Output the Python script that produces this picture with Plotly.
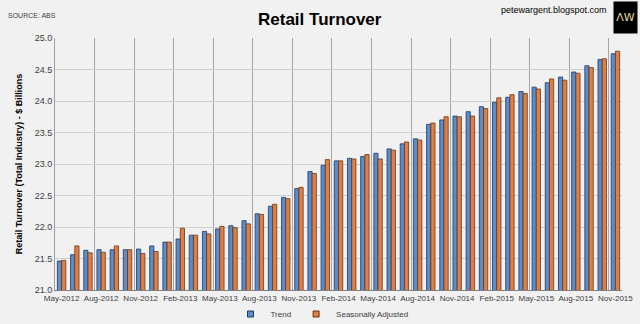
import plotly.graph_objects as go

months = ["May-2012","Jun-2012","Jul-2012","Aug-2012","Sep-2012","Oct-2012","Nov-2012","Dec-2012",
          "Jan-2013","Feb-2013","Mar-2013","Apr-2013","May-2013","Jun-2013","Jul-2013","Aug-2013",
          "Sep-2013","Oct-2013","Nov-2013","Dec-2013","Jan-2014","Feb-2014","Mar-2014","Apr-2014",
          "May-2014","Jun-2014","Jul-2014","Aug-2014","Sep-2014","Oct-2014","Nov-2014","Dec-2014",
          "Jan-2015","Feb-2015","Mar-2015","Apr-2015","May-2015","Jun-2015","Jul-2015","Aug-2015",
          "Sep-2015","Oct-2015","Nov-2015"]

trend = [21.46, 21.56, 21.63, 21.64, 21.64, 21.64, 21.65, 21.70, 21.76, 21.81, 21.87, 21.93,
         21.97, 22.02, 22.10, 22.21, 22.33, 22.47, 22.61, 22.88, 22.98, 23.05, 23.09, 23.12,
         23.17, 23.24, 23.32, 23.40, 23.63, 23.70, 23.76, 23.83, 23.91, 23.98, 24.06, 24.15,
         24.22, 24.29, 24.38, 24.46, 24.56, 24.66, 24.75]

seas_adj = [21.47, 21.70, 21.59, 21.60, 21.70, 21.64, 21.58, 21.61, 21.76, 21.98, 21.87, 21.89,
            22.01, 21.99, 22.05, 22.20, 22.36, 22.45, 22.63, 22.85, 23.07, 23.05, 23.08, 23.15,
            23.08, 23.22, 23.35, 23.38, 23.65, 23.75, 23.75, 23.76, 23.88, 24.05, 24.10, 24.12,
            24.19, 24.35, 24.33, 24.44, 24.53, 24.67, 24.79]

y_ticks = [21.0, 21.5, 22.0, 22.5, 23.0, 23.5, 24.0, 24.5, 25.0]

FONT = "Liberation Sans Narrow, Arial Narrow, Liberation Sans, sans-serif"
BG = "#f1f1f1"
W, H = 640, 324
ML, MR, MT, MB = 55, 18, 38, 34

BLUE, BLUE_EDGE = "#5b8ccb", "#1f3a5f"
ORANGE, ORANGE_EDGE = "#dc8048", "#6e3610"


def px(x):
    return (x - ML) / (W - ML - MR)


def py(y):
    return (H - MB - y) / (H - MT - MB)


idx = list(range(len(months)))
label_idx = idx[::3]

fig = go.Figure()
fig.add_trace(go.Bar(x=idx, y=trend, name="Trend", showlegend=False, legendgroup="t",
                     marker=dict(color=BLUE, line=dict(color=BLUE_EDGE, width=0.8))))
fig.add_trace(go.Bar(x=idx, y=seas_adj, name="Seasonally Adjusted", showlegend=False,
                     legendgroup="s",
                     marker=dict(color=ORANGE, line=dict(color=ORANGE_EDGE, width=0.8))))
# legend-only entries with small square swatches
fig.add_trace(go.Scatter(x=[None], y=[None], mode="markers", name="Trend", legendgroup="t",
                         marker=dict(symbol="square", size=6, color=BLUE,
                                     line=dict(color=BLUE_EDGE, width=1))))
fig.add_trace(go.Scatter(x=[None], y=[None], mode="markers", name="Seasonally Adjusted",
                         legendgroup="s",
                         marker=dict(symbol="square", size=6, color=ORANGE,
                                     line=dict(color=ORANGE_EDGE, width=1))))

fig.update_layout(
    width=W, height=H,
    paper_bgcolor=BG, plot_bgcolor=BG,
    margin=dict(l=ML, r=MR, t=MT, b=MB, autoexpand=False),
    barmode="group", bargap=0.36, bargroupgap=0.0,
    font=dict(family=FONT, size=9, color="#404040"),
    showlegend=True,
    legend=dict(orientation="h", x=px(322), xanchor="center",
                yref="container", y=1 - 314 / H, yanchor="middle",
                font=dict(size=8, color="#404040"), bgcolor="rgba(0,0,0,0)",
                itemwidth=30, traceorder="normal", tracegroupgap=0),
    xaxis=dict(
        range=[-0.5, len(months) - 0.5],
        tickmode="array", tickvals=label_idx, ticktext=[months[i] for i in label_idx],
        tickangle=0,
        showgrid=False, ticks="", showline=True, linecolor="#808080", linewidth=1,
        tickfont=dict(size=8, color="#404040"),
        minor=dict(tickmode="array", tickvals=[i - 0.5 for i in label_idx[1:]],
                   showgrid=True, gridcolor="#a6a6a6", gridwidth=1, ticks=""),
        zeroline=False,
    ),
    yaxis=dict(
        range=[21.0, 25.0], tickmode="array", tickvals=y_ticks,
        tickformat=".1f", showgrid=True, gridcolor="#cfcfcf", gridwidth=1,
        showline=True, linecolor="#a0a0a0", linewidth=1, ticks="",
        tickfont=dict(size=9, color="#404040"), zeroline=False,
        title=dict(text="<b>Retail Turnover (Total Industry) - $ Billions</b>",
                   font=dict(size=9, color="#000000"), standoff=10),
    ),
    annotations=[
        dict(text="<b>Retail Turnover</b>", x=px(320), y=py(19), xref="paper", yref="paper",
             xanchor="center", yanchor="middle", showarrow=False,
             font=dict(size=17, color="#000000", family=FONT)),
        dict(text="SOURCE: ABS", x=px(6), y=py(15), xref="paper", yref="paper",
             xanchor="left", yanchor="middle", showarrow=False,
             font=dict(size=7, color="#404040", family=FONT)),
        dict(text="petewargent.blogspot.com", x=px(609), y=py(10), xref="paper", yref="paper",
             xanchor="right", yanchor="middle", showarrow=False,
             font=dict(size=9, color="#000000", family=FONT)),
        dict(text="ΛW", x=px(625.5), y=py(17), xref="paper", yref="paper",
             xanchor="center", yanchor="middle", showarrow=False, width=21, height=29,
             bgcolor="#000000", font=dict(size=11, color="#e8d9a0", family="DejaVu Sans")),
    ],
)
fig.write_html("out.html")
